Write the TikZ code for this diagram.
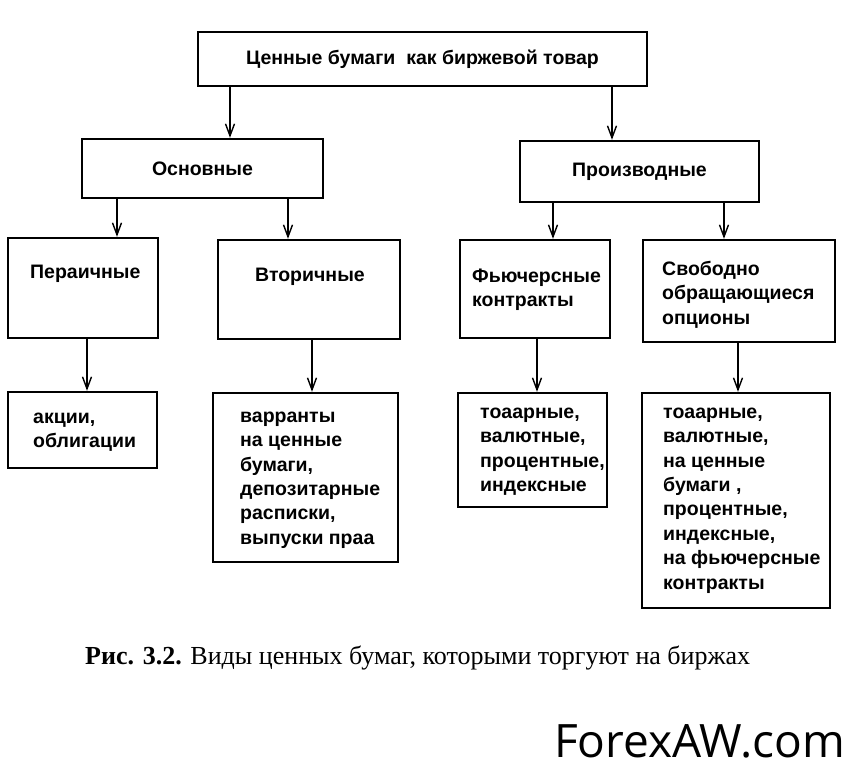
\documentclass[tikz,border=0pt]{standalone}
\usepackage{fontspec}
\setmainfont{Liberation Sans}
\newfontfamily\capfont{Liberation Serif}
\newfontfamily\markfont{Open Sans}
\usetikzlibrary{arrows.meta}

\begin{document}
\begin{tikzpicture}[x=1pt,y=-1pt,>={Straight Barb[length=12pt,width=9pt]}]
  \tikzstyle{box}=[draw=black,line width=2.4pt,inner sep=0pt,font=\fontsize{19.5}{24.4}\selectfont\bfseries]
  \tikzstyle{txt}=[anchor=north west,align=left,inner sep=0pt,font=\fontsize{19.5}{24.4}\selectfont\bfseries]
  \tikzstyle{arr}=[->,line width=1.4pt]
  \useasboundingbox (0,0) rectangle (852,776);

  % top level
  \node[box,minimum width=449pt,minimum height=54pt] (top) at (422.5,59) {Ценные бумаги\ \ как биржевой товар};

  % second level
  \node[box,minimum width=241pt,minimum height=59pt] (osn) at (202.5,168.5) {Основные};
  \node[box,minimum width=239pt,minimum height=61pt] (proizv) at (639.5,171.5) {Производные};

  % third level (text lines hang from the first baseline, strut = 17.08)
  \node[box,minimum width=150pt,minimum height=100pt] (perv) at (83,288) {};
  \node[box,minimum width=182pt,minimum height=99pt] (vtor) at (309,289.5) {};
  \node[box,minimum width=150pt,minimum height=98pt] (fut) at (535,289) {};
  \node[box,minimum width=192pt,minimum height=102pt] (opt) at (739,291) {};
  \node[txt] (pervtxt) at (30,261) {\strut Пераичные};
  \node[txt] (vtortxt) at (255,264) {\strut Вторичные};
  \node[txt] (futtxt) at (472,265) {\strut Фьючерсные\\контракты};
  \node[txt] (opttxt) at (662,258) {\strut Свободно\\обращающиеся\\опционы};

  % fourth level
  \node[box,minimum width=149pt,minimum height=76pt] (akc) at (82.5,430) {};
  \node[box,minimum width=185pt,minimum height=169pt] (var) at (305.5,477.5) {};
  \node[box,minimum width=149pt,minimum height=114pt] (tov) at (532.5,450) {};
  \node[box,minimum width=188pt,minimum height=215pt] (tovopt) at (736,500.5) {};
  \node[txt] (akctxt) at (33,406) {\strut акции,\\облигации};
  \node[txt] (vartxt) at (240,405) {\strut варранты\\на ценные\\бумаги,\\депозитарные\\расписки,\\выпуски праа};
  \node[txt] (tovtxt) at (480,401) {\strut тоаарные,\\валютные,\\процентные,\\индексные};
  \node[txt] (tovopttxt) at (663,401) {\strut тоаарные,\\валютные,\\на ценные\\бумаги ,\\процентные,\\индексные,\\на фьючерсные\\контракты};

  % arrows
  \draw[arr] ([xshift=27.5pt]osn.north |- top.south) -- ([xshift=27.5pt]osn.north);
  \draw[arr] ([xshift=-27.5pt]proizv.north |- top.south) -- ([xshift=-27.5pt]proizv.north);
  \draw[arr] ([xshift=34pt]perv.north |- osn.south) -- ([xshift=34pt]perv.north);
  \draw[arr] ([xshift=-21pt]vtor.north |- osn.south) -- ([xshift=-21pt]vtor.north);
  \draw[arr] ([xshift=18pt]fut.north |- proizv.south) -- ([xshift=18pt]fut.north);
  \draw[arr] ([xshift=-15pt]opt.north |- proizv.south) -- ([xshift=-15pt]opt.north);
  \draw[arr] ([xshift=4.5pt]akc.north |- perv.south) -- ([xshift=4.5pt]akc.north);
  \draw[arr] ([xshift=6.5pt]var.north |- vtor.south) -- ([xshift=6.5pt]var.north);
  \draw[arr] ([xshift=4.5pt]tov.north |- fut.south) -- ([xshift=4.5pt]tov.north);
  \draw[arr] ([xshift=2pt]tovopt.north |- opt.south) -- ([xshift=2pt]tovopt.north);

  % caption and mark
  \node[anchor=base west,inner sep=0pt] (cap) at (85,664) {\capfont\fontsize{26}{30}\selectfont\textbf{Рис. 3.2.} Виды ценных бумаг, которыми торгуют на биржах};
  \node[anchor=base east,inner sep=0pt] (mark) at (845,757) {\markfont\fontsize{46}{52}\selectfont ForexAW.com};
\end{tikzpicture}
\end{document}
